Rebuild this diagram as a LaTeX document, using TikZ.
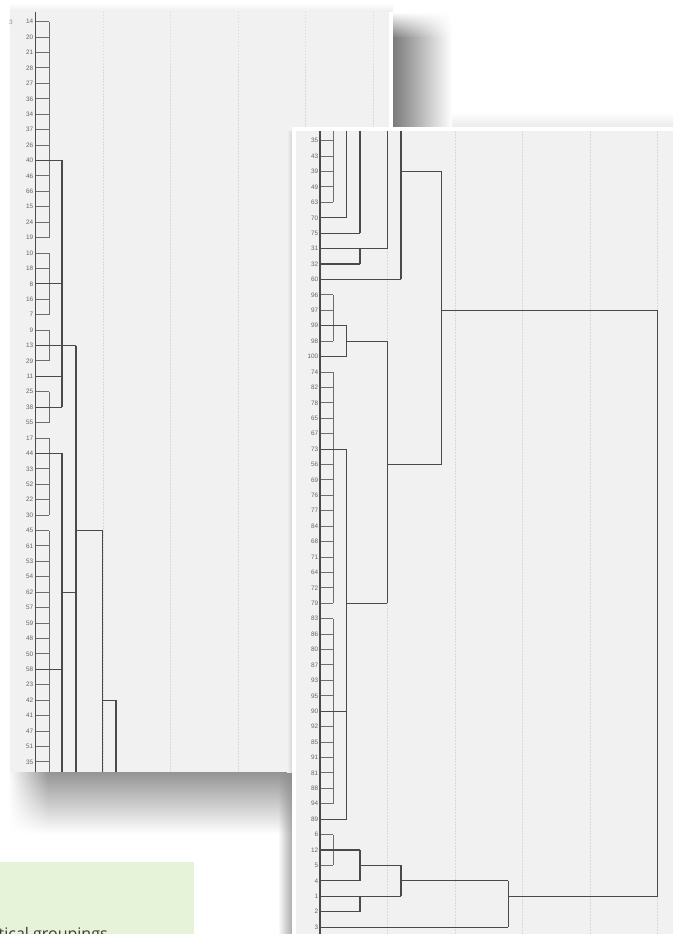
\documentclass[tikz,border=0pt]{standalone}
\usepackage{fontspec}
\usetikzlibrary{shadings}
\setmainfont{Liberation Sans}
\newfontfamily\capfont{Open Sans}
\definecolor{panelbg}{HTML}{F1F1F1}
\definecolor{tickgray}{HTML}{6E6E6E}
\definecolor{joingray}{HTML}{4A4A4A}
\definecolor{gridgray}{HTML}{D9D9D9}
\definecolor{labgray}{HTML}{666666}
\definecolor{greenbox}{HTML}{E6F3D8}
\definecolor{captext}{HTML}{3A3A3A}
\newcommand\dlh[3]{\draw[dlink] (#2,{ly(#1)}) -- (#3,{ly(#1)});}
\newcommand\dlv[3]{\draw[dlink] (#1,{ly(#2)}) -- (#1,{ly(#3)});}
\newcommand\dlc[3]{\draw[dtick] (#1,{ly(#2)}) -- (#1,{ly(#3)});}
\newcommand\drh[3]{\draw[dlink] (#2,{ry(#1)}) -- (#3,{ry(#1)});}
\newcommand\drv[3]{\draw[dlink] (#1,{ry(#2)}) -- (#1,{ry(#3)});}
\newcommand\drc[3]{\draw[dtick] (#1,{ry(#2)}) -- (#1,{ry(#3)});}
\begin{document}
\begin{tikzpicture}[x=1pt,y=-1pt,
  declare function={ly(\i)=21.7+(\i-1)*15.42; ry(\i)=140.7+(\i-1)*15.42;},
  lbl/.style={anchor=east,inner sep=0pt,font=\fontsize{6.4}{7}\selectfont,text=labgray},
  dtick/.style={draw=tickgray,line width=1pt},
  dlink/.style={draw=joingray,line width=1.15pt},
  axisline/.style={draw=joingray,line width=1.2pt},
  gridline/.style={draw=gridgray,line width=0.7pt,dash pattern=on 1.5pt off 1.5pt},
]
\useasboundingbox (0,0) rectangle (673,934);
\fill[white] (0,0) rectangle (673,934);

% ---------- left panel ----------
\shade[top color=white,bottom color=black!7] (10,3) rectangle (393,12);
\fill[panelbg] (10,12) rectangle (389,772);
\fill[white] (389,12) rectangle (393,772);
\foreach \gx in {103,170.5,238,305.5,373}
  \draw[gridline] (\gx,12) -- (\gx,772);
\node[lbl,text=labgray!70] (three) at (13,22) {3};
\foreach \t [count=\i] in {14,20,21,28,27,36,34,37,26,40,46,66,15,24,19,10,18,8,16,7,9,13,29,11,25,38,55,17,44,33,52,22,30,45,61,53,54,62,57,59,48,50,58,23,42,41,47,51,35}
  \node[lbl] (l\i) at (33.5,{ly(\i)}) {\t};
\foreach \i in {1,...,49}
  \draw[dtick] (35.5,{ly(\i)}) -- (49,{ly(\i)});
\dlc{49}{1}{15}
\dlc{49}{16}{20}
\dlc{49}{21}{23}
\dlc{49}{25}{27}
\dlc{49}{28}{33}
\dlc{49}{34}{49.7}
\dlh{10}{35.5}{62}
\dlv{62}{10}{26}
\dlh{18}{35.5}{62}
\dlh{24}{35.5}{62}
\dlh{26}{35.5}{62}
\dlh{22}{35.5}{76}
\dlv{76}{22}{49.7}
\dlh{29}{35.5}{62}
\dlv{62}{29}{49.7}
\dlh{43}{35.5}{62}
\dlh{38}{62}{76}
\dlh{34}{76}{102.5}
\dlv{102.5}{34}{49.7}
\dlh{45}{102.5}{116}
\dlv{116}{45}{49.7}
\draw[axisline] (35.5,12) -- (35.5,773);

% ---------- shadows ----------
\shade[top color=white,bottom color=black!10] (393,112) rectangle (673,131);
\shade[upper left=white,upper right=white,lower left=black!52,lower right=white] (393,12) rectangle (452,38);
\shade[left color=black!52,right color=white] (393,38) rectangle (452,131);
\shade[upper left=white,upper right=black!42,lower left=white,lower right=white] (8,772) rectangle (48,834);
\shade[top color=black!42,bottom color=white] (48,772) rectangle (278,834);
\shade[upper left=black!42,upper right=black!45,lower left=white,lower right=black!35] (278,772) rectangle (293,834);
\shade[left color=white,right color=black!35] (278,834) rectangle (293,934);
\shade[left color=panelbg,right color=black!18] (287,131) rectangle (293,772);

% ---------- right panel ----------
\fill[white] (292,127) rectangle (673,934);
\fill[panelbg] (295.5,131) rectangle (673,934);
\foreach \gx in {387.5,455,522.5,590,657.5}
  \draw[gridline] (\gx,131) -- (\gx,934);
\foreach \t [count=\i] in {35,43,39,49,63,70,75,31,32,60,96,97,99,98,100,74,82,78,65,67,73,56,69,76,77,84,68,71,64,72,79,83,86,80,87,93,95,90,92,85,91,81,88,94,89,6,12,5,4,1,2,3}
  \node[lbl] (r\i) at (318.5,{ry(\i)}) {\t};
\foreach \i in {1,...,5}   \draw[dtick] (320,{ry(\i)}) -- (333.3,{ry(\i)});
\foreach \i in {11,...,14} \draw[dtick] (320,{ry(\i)}) -- (333.3,{ry(\i)});
\foreach \i in {16,...,44} \draw[dtick] (320,{ry(\i)}) -- (333.3,{ry(\i)});
\foreach \i in {46,...,48} \draw[dtick] (320,{ry(\i)}) -- (333.3,{ry(\i)});
\drc{333.3}{0.37}{5}
\drc{333.3}{11}{14}
\drc{333.3}{16}{31}
\drc{333.3}{32}{44}
\drc{333.3}{46}{48}
\drh{6}{320}{346.7}
\drv{346.7}{0.37}{6}
\drh{7}{320}{360}
\drv{360}{0.37}{7}
\drh{8}{320}{387.3}
\drv{387.3}{0.37}{8}
\drv{360}{8}{9}
\drh{9}{320}{360}
\drh{10}{320}{401}
\drv{401}{0.37}{10}
\drh{3}{401}{441.7}
\drv{441.7}{3}{22}
\drh{12}{441.7}{657.7}
\drv{657.7}{12}{50}
\drh{13}{320}{346.7}
\drv{346.7}{13}{15}
\drh{15}{320}{346.7}
\drh{14}{346.7}{387.3}
\drv{387.3}{14}{31}
\drh{22}{387.3}{441.7}
\drh{31}{346.7}{387.3}
\drh{21}{320}{346.7}
\drv{346.7}{21}{45}
\drh{45}{320}{346.7}
\drh{38}{320}{346.7}
\drh{47}{320}{360}
\drv{360}{47}{49}
\drh{49}{320}{360}
\drh{48}{360}{401}
\drv{401}{48}{50}
\drh{50}{320}{401}
\drv{360}{50}{51}
\drh{51}{320}{360}
\drh{49}{401}{508.3}
\drv{508.3}{49}{52}
\drh{52}{320}{508.3}
\drh{50}{508.3}{657.7}
\draw[axisline] (320,131) -- (320,934);

% ---------- green caption box ----------
\fill[greenbox] (0,862) rectangle (194,934);
\node[anchor=base west,inner sep=0pt,font=\capfont\fontsize{16}{19}\selectfont,text=captext] (cap) at (-1.5,939.5) {tical groupings};
\end{tikzpicture}
\end{document}
